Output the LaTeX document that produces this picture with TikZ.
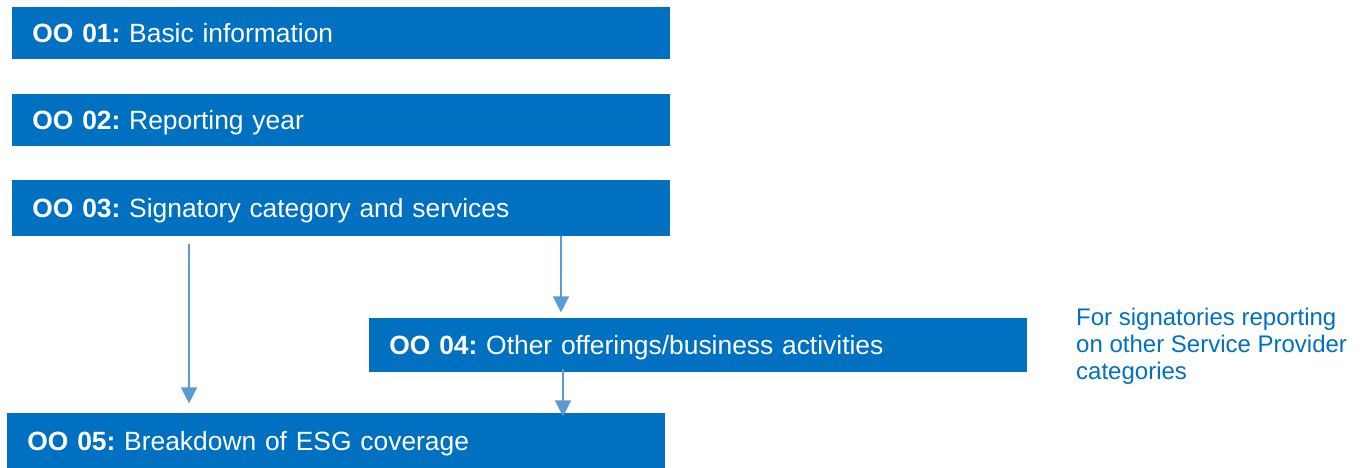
\documentclass[tikz,border=0pt]{standalone}
\usepackage{fontspec}
\setmainfont{Liberation Sans}
\usepackage{xcolor}
\usetikzlibrary{positioning, arrows.meta}
\definecolor{ooblue}{HTML}{0070C0}
\definecolor{ooarrow}{HTML}{5B9BD5}

\begin{document}
\begin{tikzpicture}[>={Triangle[length=8pt, width=8pt]},
    oobox/.style={fill=ooblue, text=white, inner sep=0pt, inner xsep=10pt, minimum width=329pt, text width=309pt, text height=9.5pt, text depth=0pt, align=left, font=\fontsize{13.2}{15}\selectfont\frenchspacing},
    ooflow/.style={->, ooarrow, line width=0.75pt}]
    \path[use as bounding box] (0pt,0pt) rectangle (680pt,-233.5pt);
    \node[oobox, anchor=north west, minimum height=26pt] (oo01) at (6pt,-3.5pt) {\textbf{OO 01:} Basic information};
    \node[oobox, below right=17pt and 0pt of oo01.south west, minimum height=26pt] (oo02) {\textbf{OO 02:} Reporting year};
    \node[oobox, below right=16.5pt and 0pt of oo02.south west, minimum height=28pt] (oo03) {\textbf{OO 03:} Signatory category and services};
    \node[oobox, below right=40.5pt and 178.5pt of oo03.south west, minimum height=27pt] (oo04) {\textbf{OO 04:} Other offerings/business activities};
    \node[oobox, below right=88pt and -2.5pt of oo03.south west, minimum height=28pt, minimum width=328.5pt] (oo05) {\textbf{OO 05:} Breakdown of ESG coverage};
    \node[anchor=north west, inner sep=0pt, align=left, text=ooblue, font=\fontsize{12}{13.5}\selectfont] (note) at ([xshift=24pt, yshift=5pt]oo04.north east) {For signatories reporting\\on other Service Provider\\categories};
    \draw[ooflow] ([xshift=88.5pt, yshift=-4pt]oo03.south west) -- ([xshift=91pt, yshift=4.5pt]oo05.north west);
    \draw[ooflow] ([xshift=274.5pt]oo03.south west) -- ([xshift=96pt, yshift=2.5pt]oo04.north west);
    \draw[ooflow] ([xshift=97pt, yshift=1.5pt]oo04.south west) -- ([xshift=278pt, yshift=-2pt]oo05.north west);
\end{tikzpicture}
\end{document}
